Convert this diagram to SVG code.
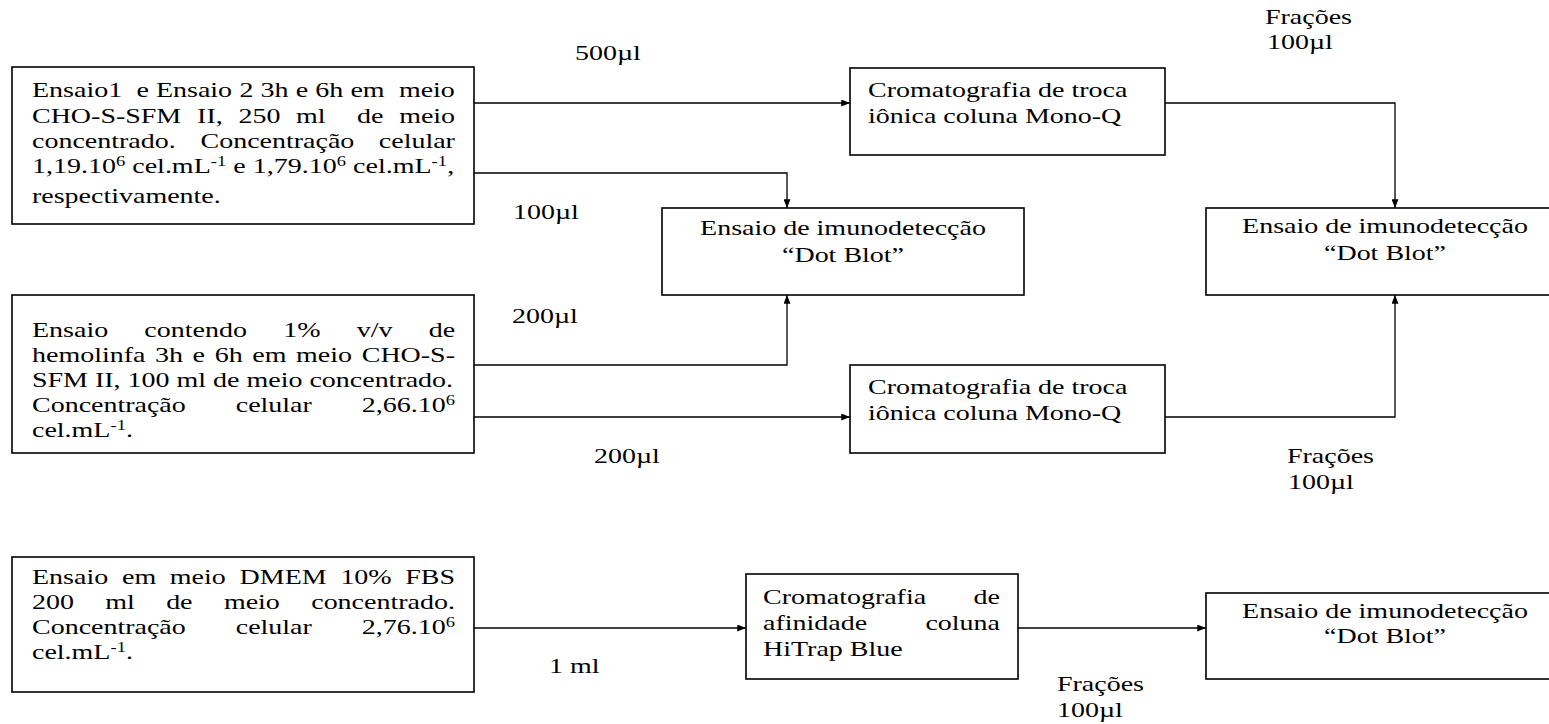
<svg xmlns="http://www.w3.org/2000/svg" width="1549" height="724" viewBox="0 0 1549 724">
<style>
.t{font-family:"Liberation Serif","Times New Roman",serif;font-size:22px;fill:#000}
.s{font-size:14.5px}
.m{text-anchor:middle}
.box{fill:#fff;stroke:#000;stroke-width:1.6}
.ln{fill:none;stroke:#000;stroke-width:1.3}
</style>
<defs>
<marker id="ah" viewBox="0 0 10 8" refX="10" refY="4" markerWidth="9" markerHeight="7" orient="auto" markerUnits="userSpaceOnUse"><path d="M0,0 L10,4 L0,8 z" fill="#000"/></marker>
</defs>
<rect width="1549" height="724" fill="#fff"/>
<g id="connectors">
<path class="ln" d="M474,103 H850" marker-end="url(#ah)"/>
<path class="ln" d="M474,173 H787 V208" marker-end="url(#ah)"/>
<path class="ln" d="M474,365 H787 V295" marker-end="url(#ah)"/>
<path class="ln" d="M474,417 H850" marker-end="url(#ah)"/>
<path class="ln" d="M1165,103 H1395 V208" marker-end="url(#ah)"/>
<path class="ln" d="M1165,417 H1395 V295" marker-end="url(#ah)"/>
<path class="ln" d="M474,628 H746" marker-end="url(#ah)"/>
<path class="ln" d="M1018,628 H1206" marker-end="url(#ah)"/>
</g>
<g id="labels" class="t">
<text transform="matrix(1.2727 0 0 1 575 60)">500µl</text>
<text transform="matrix(1.2727 0 0 1 513 219)">100µl</text>
<text transform="matrix(1.2727 0 0 1 512 323)">200µl</text>
<text transform="matrix(1.2727 0 0 1 594 463)">200µl</text>
<text transform="matrix(1.2727 0 0 1 1265 0)"><tspan x="0" y="24">Frações</tspan><tspan x="1.6" y="49">100µl</tspan></text>
<text transform="matrix(1.2727 0 0 1 1287 0)"><tspan x="0" y="463">Frações</tspan><tspan x="0.8" y="489">100µl</tspan></text>
<text transform="matrix(1.2727 0 0 1 549 673)">1 ml</text>
<text transform="matrix(1.2727 0 0 1 1057 0)"><tspan x="0" y="691">Frações</tspan><tspan x="0" y="717">100µl</tspan></text>
</g>
<g id="ensaio1" class="t">
<rect class="box" x="12" y="67" width="462" height="157"/>
<text transform="matrix(1.2727 0 0 1 32 0)"><tspan x="0" y="97">Ensaio1</tspan><tspan x="82.1" y="97">e</tspan><tspan x="97.4" y="97">Ensaio</tspan><tspan x="163" y="97">2</tspan><tspan x="179.6" y="97">3h</tspan><tspan x="207.3" y="97">e</tspan><tspan x="222.6" y="97">6h</tspan><tspan x="250.2" y="97">em</tspan><tspan x="288.3" y="97">meio</tspan><tspan x="0" y="123">CHO-S-SFM</tspan><tspan x="129.7" y="123">II,</tspan><tspan x="162.2" y="123">250</tspan><tspan x="207.5" y="123">ml</tspan><tspan x="255.4" y="123">de</tspan><tspan x="288.5" y="123">meio</tspan><tspan x="0" y="148">concentrado.</tspan><tspan x="132.4" y="148">Concentração</tspan><tspan x="272.5" y="148">celular</tspan><tspan x="0" y="173">1,19.10</tspan><tspan class="s" x="66" y="166">6</tspan><tspan x="78.8" y="173">cel.mL</tspan><tspan class="s" x="140.5" y="166">-1</tspan><tspan x="158.2" y="173">e</tspan><tspan x="173.5" y="173">1,79.10</tspan><tspan class="s" x="239.5" y="166">6</tspan><tspan x="252.3" y="173">cel.mL</tspan><tspan class="s" x="314" y="166">-1</tspan><tspan x="326.2" y="173">,</tspan><tspan x="0" y="203">respectivamente.</tspan></text>
</g>
<g id="ensaio2" class="t">
<rect class="box" x="12" y="295" width="462" height="158"/>
<text transform="matrix(1.2727 0 0 1 32 0)"><tspan x="0" y="337">Ensaio</tspan><tspan x="88.3" y="337">contendo</tspan><tspan x="197.4" y="337">1%</tspan><tspan x="255.1" y="337">v/v</tspan><tspan x="311.7" y="337">de</tspan><tspan x="0" y="362">hemolinfa</tspan><tspan x="96.7" y="362">3h</tspan><tspan x="126.2" y="362">e</tspan><tspan x="143.6" y="362">6h</tspan><tspan x="173.1" y="362">em</tspan><tspan x="207.5" y="362">meio</tspan><tspan x="259.1" y="362">CHO-S-</tspan><tspan x="0" y="387">SFM II, 100 ml de meio concentrado.</tspan><tspan x="0" y="412">Concentração</tspan><tspan x="160.1" y="412">celular</tspan><tspan x="259.1" y="412">2,66.10</tspan><tspan class="s" x="325.1" y="405">6</tspan><tspan x="0" y="437">cel.mL</tspan><tspan class="s" x="61.7" y="430">-1</tspan><tspan x="73.9" y="437">.</tspan></text>
</g>
<g id="ensaio3" class="t">
<rect class="box" x="12" y="557" width="462" height="135"/>
<text transform="matrix(1.2727 0 0 1 32 0)"><tspan x="0" y="584">Ensaio</tspan><tspan x="70.7" y="584">em</tspan><tspan x="108.3" y="584">meio</tspan><tspan x="163.1" y="584">DMEM</tspan><tspan x="242.3" y="584">10%</tspan><tspan x="293.3" y="584">FBS</tspan><tspan x="0" y="609">200</tspan><tspan x="57.6" y="609">ml</tspan><tspan x="105.4" y="609">de</tspan><tspan x="150.8" y="609">meio</tspan><tspan x="219.4" y="609">concentrado.</tspan><tspan x="0" y="634">Concentração</tspan><tspan x="160.1" y="634">celular</tspan><tspan x="259.1" y="634">2,76.10</tspan><tspan class="s" x="325.1" y="627">6</tspan><tspan x="0" y="659">cel.mL</tspan><tspan class="s" x="61.7" y="652">-1</tspan><tspan x="73.9" y="659">.</tspan></text>
</g>
<g id="cromatografia1" class="t">
<rect class="box" x="850" y="68" width="315" height="87"/>
<text transform="matrix(1.2727 0 0 1 868 0)"><tspan x="0" y="97">Cromatografia de troca</tspan><tspan x="0" y="123">iônica coluna Mono-Q</tspan></text>
</g>
<g id="cromatografia2" class="t">
<rect class="box" x="850" y="365" width="315" height="88"/>
<text transform="matrix(1.2727 0 0 1 868 0)"><tspan x="0" y="394">Cromatografia de troca</tspan><tspan x="0" y="420">iônica coluna Mono-Q</tspan></text>
</g>
<g id="dotblot1" class="t">
<rect class="box" x="662" y="208" width="362" height="87"/>
<text class="m" transform="matrix(1.2727 0 0 1 843 0)"><tspan x="0" y="235">Ensaio de imunodetecção</tspan><tspan x="0" y="262">“Dot Blot”</tspan></text>
</g>
<g id="dotblot2" class="t">
<rect class="box" x="1206" y="208" width="360" height="87"/>
<text class="m" transform="matrix(1.2727 0 0 1 1385 0)"><tspan x="0" y="233">Ensaio de imunodetecção</tspan><tspan x="0" y="260">“Dot Blot”</tspan></text>
</g>
<g id="hitrap" class="t">
<rect class="box" x="746" y="574" width="272" height="105"/>
<text transform="matrix(1.2727 0 0 1 763 0)"><tspan x="0" y="604">Cromatografia</tspan><tspan x="165.5" y="604">de</tspan><tspan x="0" y="630">afinidade</tspan><tspan x="127.6" y="630">coluna</tspan><tspan x="0" y="656">HiTrap Blue</tspan></text>
</g>
<g id="dotblot3" class="t">
<rect class="box" x="1206" y="593" width="360" height="86"/>
<text class="m" transform="matrix(1.2727 0 0 1 1385 0)"><tspan x="0" y="618">Ensaio de imunodetecção</tspan><tspan x="0" y="643">“Dot Blot”</tspan></text>
</g>
</svg>
